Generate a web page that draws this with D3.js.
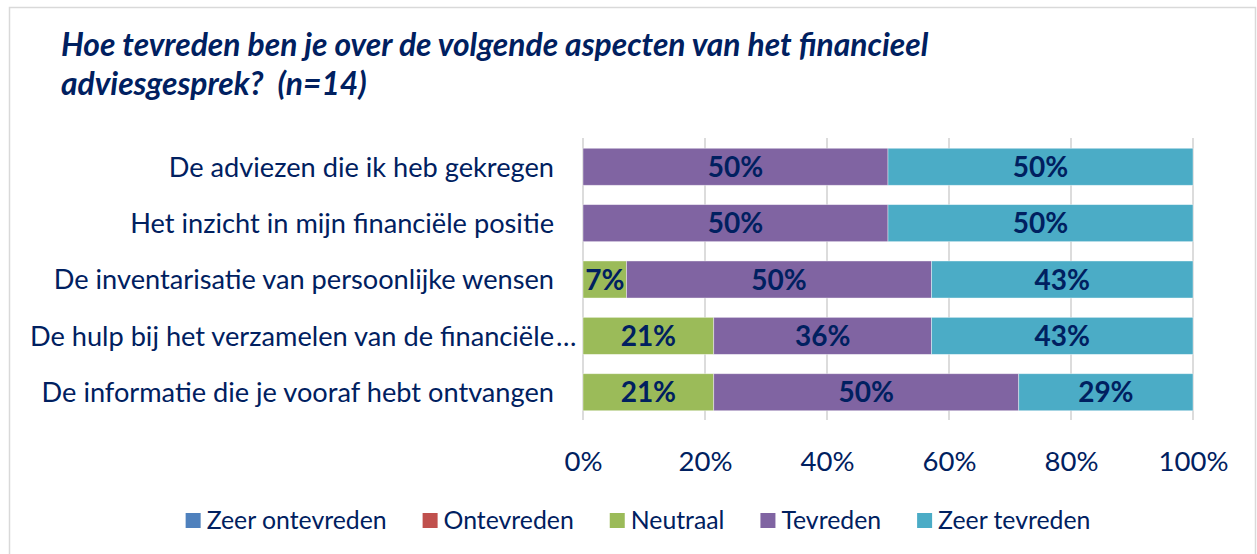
<!DOCTYPE html>
<html>
<head>
<meta charset="utf-8">
<script src="https://cdn.jsdelivr.net/npm/d3@7"></script>
<style>
  html, body { margin: 0; padding: 0; background: #fff; }
  svg { display: block; }
  text { font-family: Lato, "Open Sans", sans-serif; fill: #002060; }
</style>
</head>
<body>
<svg id="chart" width="1257" height="554"></svg>
<script>
// ---- data ----
const titleLines = ["Hoe tevreden ben je over de volgende aspecten van het financieel", "adviesgesprek?  (n=14)"];
const categories = [
  "De adviezen die ik heb gekregen",
  "Het inzicht in mijn financiële positie",
  "De inventarisatie van persoonlijke wensen",
  "De hulp bij het verzamelen van de financiële…",
  "De informatie die je vooraf hebt ontvangen"
];
const seriesNames = ["Zeer ontevreden", "Ontevreden", "Neutraal", "Tevreden", "Zeer tevreden"];
const seriesColors = ["#4F81BD", "#C0504D", "#9BBB59", "#8064A2", "#4BACC6"];
const zeerOntevreden = [0, 0, 0, 0, 0];
const ontevreden     = [0, 0, 0, 0, 0];
const neutraal       = [0, 0, 7.14, 21.43, 21.43];
const tevreden       = [50, 50, 50, 35.71, 50];
const zeerTevreden   = [50, 50, 42.86, 42.86, 28.57];
const tickValues = [0, 20, 40, 60, 80, 100];

const seriesValues = [zeerOntevreden, ontevreden, neutraal, tevreden, zeerTevreden];
const rows = categories.map((c, i) => {
  const r = { category: c };
  seriesNames.forEach((s, j) => r[s] = seriesValues[j][i]);
  return r;
});

const svg = d3.select("#chart");

// chart border
svg.append("rect")
  .attr("x", 9.5).attr("y", 7.5).attr("width", 1246).attr("height", 560)
  .attr("fill", "#fff").attr("stroke", "#d9d9d9").attr("stroke-width", 1.5);

// title
const title = svg.append("text")
  .attr("x", 61)
  .attr("y", 56)
  .attr("xml:space", "preserve")
  .style("white-space", "pre")
  .style("font-size", "31.8px")
  .style("font-weight", "bold")
  .style("font-style", "italic");
titleLines.forEach((t, i) => {
  title.append("tspan").attr("x", 61).attr("dy", i === 0 ? 0 : 39).text(t);
});

// scales
const x = d3.scaleLinear().domain([0, 100]).range([583, 1193]);
const y = d3.scaleBand().domain(categories).range([138.6, 420.4]).paddingInner(0.343).paddingOuter(0.1715);

// gridlines
svg.append("g").selectAll("line").data(tickValues).join("line")
  .attr("x1", d => x(d)).attr("x2", d => x(d))
  .attr("y1", 138).attr("y2", 420)
  .attr("stroke", "#d9d9d9").attr("stroke-width", 1.8);

// stacked bars
const stack = d3.stack().keys(seriesNames);
const stacked = stack(rows);
const color = d3.scaleOrdinal().domain(seriesNames).range(seriesColors);

const layers = svg.append("g").selectAll("g").data(stacked).join("g")
  .attr("fill", d => color(d.key));
layers.selectAll("rect").data(d => d.filter(p => p[1] - p[0] > 0)).join("rect")
  .attr("x", d => x(d[0]))
  .attr("width", d => x(d[1]) - x(d[0]))
  .attr("y", d => y(d.data.category))
  .attr("height", y.bandwidth())
  .attr("stroke", "#ffffff").attr("stroke-opacity", 0.5).attr("stroke-width", 0.8);

// value labels
layers.selectAll("text").data(d => d.filter(p => p[1] - p[0] > 0)).join("text")
  .attr("x", d => x((d[0] + d[1]) / 2))
  .attr("y", d => y(d.data.category) + y.bandwidth() / 2)
  .attr("dy", "0.36em")
  .attr("text-anchor", "middle")
  .style("font-size", "28px")
  .style("font-weight", "bold")
  .text(d => Math.round(d[1] - d[0]) + "%");

// category labels
const catG = svg.append("g");
categories.forEach(c => {
  const yc = y(c) + y.bandwidth() / 2;
  const hasEllipsis = c.endsWith("…");
  const main = hasEllipsis ? c.slice(0, -1) : c;
  catG.append("text")
    .attr("x", 554).attr("y", yc).attr("dy", "0.36em")
    .attr("text-anchor", "end")
    .style("font-size", "27.2px")
    .text(main);
  if (hasEllipsis) {
    catG.append("text")
      .attr("x", 556).attr("y", yc).attr("dy", "0.36em")
      .attr("text-anchor", "start")
      .style("font-size", "27.2px")
      .text("…");
  }
});

// x-axis tick labels
const xAxis = d3.axisBottom(x).tickValues(tickValues).tickSize(0).tickPadding(0).tickFormat(d => d + "%");
const axG = svg.append("g").attr("transform", "translate(0,450)").call(xAxis);
axG.select(".domain").remove();
axG.selectAll("text")
  .attr("dy", "0.75em")
  .style("font-size", "27.5px")
  .style("font-family", "Lato, 'Open Sans', sans-serif")
  .attr("fill", "#002060");

// legend
const legend = svg.append("g");
const items = legend.selectAll("g").data(seriesNames).join("g");
items.append("rect").attr("width", 15).attr("height", 15).attr("y", 513)
  .attr("fill", d => color(d));
items.append("text").attr("x", 21).attr("y", 520.5).attr("dy", "0.36em")
  .style("font-size", "24.8px").text(d => d);
let widths = [];
items.each(function () { widths.push(21 + this.querySelector("text").getComputedTextLength()); });
const gap = 36;
const total = d3.sum(widths) + gap * (widths.length - 1);
let cx = 638 - total / 2;
items.each(function (d, i) {
  d3.select(this).attr("transform", `translate(${cx},0)`);
  cx += widths[i] + gap;
});
</script>
</body>
</html>
